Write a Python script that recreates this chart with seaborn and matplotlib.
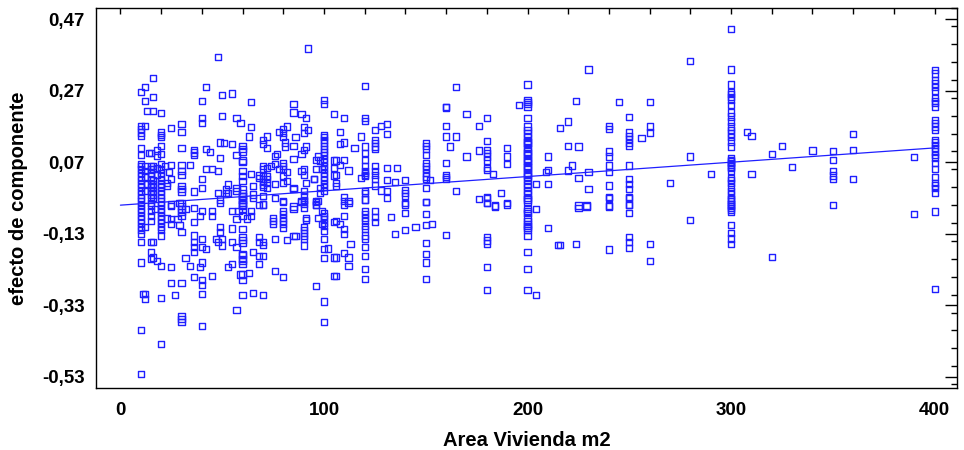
import numpy as np
import pandas as pd
import matplotlib
matplotlib.use("Agg")
import matplotlib.pyplot as plt
import seaborn as sns
from matplotlib.ticker import FixedLocator, MultipleLocator

# ---------------- data ----------------
# stacked columns: area value -> list of component effects
col_10 = [0.267, 0.172, 0.162, 0.153, 0.144, 0.109, 0.091, 0.065, 0.06, 0.05, 0.04, 0.03, 0.02, 0.01,
          0.0, -0.01, -0.02, -0.03, -0.04, -0.05, -0.06, -0.07, -0.08, -0.09, -0.10, -0.11, -0.12,
          -0.13, -0.154, -0.21, -0.399, -0.522]
col_12 = [0.281, 0.242, 0.172, 0.06, 0.045, 0.03, -0.01, -0.112, -0.298, -0.312]
col_15 = [0.096, 0.06, 0.05, 0.04, 0.03, 0.02, 0.01, 0.0, -0.01, -0.02, -0.029, -0.043, -0.052,
          -0.066, -0.08, -0.094, -0.154, -0.18, -0.2]
col_16 = [0.306, 0.253, 0.214, 0.06, 0.05, 0.02, 0.01, 0.0, -0.01, -0.02, -0.03, -0.154, -0.196]
col_18 = [0.103, 0.089, 0.054, 0.035, -0.205]
col_20 = [0.207, 0.153, 0.147, 0.14, 0.116, 0.094, 0.066, 0.05, 0.04, 0.03, 0.02, 0.01, 0.0, -0.01,
          -0.02, -0.03, -0.04, -0.05, -0.06, -0.07, -0.08, -0.09, -0.10, -0.11, -0.12, -0.135,
          -0.219, -0.309, -0.438]
col_25 = [0.166, 0.062, 0.023, -0.048, -0.052, -0.089, -0.103, -0.223, -0.267]
col_30 = [0.177, 0.155, 0.109, 0.062, 0.045, 0.035, 0.003, -0.004, -0.012, -0.043, -0.052, -0.06,
          -0.07, -0.08, -0.126, -0.267, -0.36, -0.369, -0.376]
col_36 = [0.105, 0.097, 0.091, -0.012, -0.057, -0.098, -0.135, -0.154, -0.168, -0.182, -0.251]
col_40 = [0.242, 0.193, 0.179, 0.022, -0.002, -0.066, -0.145, -0.168, -0.21, -0.26, -0.274, -0.298, -0.388]
col_60 = [0.116, 0.107, 0.10, 0.075, 0.07, 0.045, 0.031, 0.017, -0.006, -0.016, -0.025, -0.035,
          -0.048, -0.024, -0.034, -0.043, -0.052, -0.061, -0.08, -0.117, -0.14, -0.148, -0.156,
          -0.186, -0.19, -0.2, -0.205, -0.214, -0.244, -0.26, -0.3]
col_70 = [0.131, 0.122, 0.059, 0.051, 0.031, 0.023, 0.015, 0.007, 0.0, -0.025, -0.048, -0.048,
          -0.152, -0.161, -0.191, -0.302]
col_72 = [0.142, 0.109, 0.053, 0.031, 0.022, 0.012, -0.002]
col_80 = [0.162, 0.151, 0.14, 0.068, 0.059, 0.05, 0.031, 0.012, -0.039, -0.041, -0.066, -0.075,
          -0.085, -0.094, -0.103, -0.113, -0.251]
col_90 = [0.168, 0.151, 0.105, 0.05, 0.035, -0.011, -0.025, -0.036, -0.038, -0.047, -0.057, -0.112,
          -0.12, -0.128, -0.137, -0.145, -0.163]
col_100 = [0.244, 0.232, 0.147, 0.14, 0.133, 0.125, 0.116, 0.107, 0.098, 0.09, 0.08, 0.07, 0.06,
           0.05, 0.04, 0.03, 0.02, 0.01, 0.0, -0.01, -0.071, -0.08, -0.089, -0.099, -0.108, -0.122,
           -0.145, -0.173, -0.197, -0.319, -0.376]
col_120 = [0.284, 0.193, 0.186, 0.114, 0.096, 0.077, 0.059, 0.045, 0.04, 0.035, 0.031, -0.011,
           -0.016, -0.034, -0.034, -0.066, -0.075, -0.085, -0.094, -0.108, -0.117, -0.135, -0.143,
           -0.168, -0.191, -0.228, -0.256]
col_125 = [0.159, 0.133, 0.123, 0.114, 0.107, 0.059, 0.045, 0.035, 0.022, 0.005, -0.066, -0.082, -0.098]
col_140 = [0.02, -0.008, -0.016, -0.045, -0.024, -0.048, -0.071, -0.119]
col_150 = [0.123, 0.116, 0.107, 0.09, 0.068, 0.06, 0.05, 0.04, 0.03, 0.022, -0.002, -0.041, -0.041,
           -0.075, -0.106, -0.156, -0.186, -0.21, -0.256]
col_160 = [0.223, 0.172, 0.142, 0.068, 0.035, 0.029, 0.022, -0.134]
col_180 = [0.193, 0.13, 0.105, 0.096, 0.086, 0.075, 0.054, 0.049, -0.027, -0.043, -0.029, -0.043,
           -0.14, -0.149, -0.157, -0.223, -0.288]
col_200 = [0.287, 0.244, 0.238, 0.232, 0.226, 0.193, 0.17, 0.16, 0.15, 0.14, 0.13, 0.125, 0.12, 0.11,
           0.10, 0.095, 0.09, 0.08, 0.075, 0.07, 0.06, 0.055, 0.05, 0.04, 0.035, 0.03, 0.02, 0.01,
           0.0, -0.01, -0.02, -0.029, -0.034, -0.04, -0.061, -0.066, -0.071, -0.085, -0.094, -0.103,
           -0.108, -0.113, -0.12, -0.137, -0.18, -0.228, -0.288]
col_240 = [0.172, 0.162, 0.1, 0.086, 0.061, 0.042, 0.005, -0.027, -0.051, -0.029, -0.054, -0.174]
col_250 = [0.196, 0.153, 0.144, 0.135, 0.123, 0.116, 0.061, 0.023, 0.01, -0.004, -0.027, -0.048,
           -0.029, -0.05, -0.071, -0.14, -0.154, -0.17]
col_300 = [0.443, 0.329, 0.287, 0.267, 0.26, 0.252, 0.245, 0.23, 0.209, 0.198, 0.184, 0.17, 0.159,
           0.15, 0.14, 0.128, 0.114, 0.082, 0.077, 0.072, 0.068, 0.063, 0.058, 0.053, 0.045, 0.026,
           0.02, 0.012, 0.0, -0.01, -0.02, -0.03, -0.04, -0.048, -0.034, -0.047, -0.052, -0.057,
           -0.063, -0.068, -0.106, -0.128, -0.143, -0.159]
col_400 = [0.327, 0.318, 0.30, 0.29, 0.28, 0.268, 0.25, 0.24, 0.236, 0.225, 0.188, 0.18, 0.17, 0.159,
           0.133, 0.125, 0.118, 0.11, 0.10, 0.09, 0.083, 0.068, 0.051, 0.028, 0.012, 0.005, -0.003,
           -0.015, -0.068, -0.285]

# scattered points: (area m2, component effect)
pts_0_50 = [(13, 0.214), (14, 0.096), (23, 0.012), (23, 0.003), (23, -0.087), (28, -0.089),
            (29, -0.106), (29, -0.043), (27, -0.30), (32, -0.061), (32, -0.198), (34, 0.062),
            (34, -0.219), (39, -0.08), (39, -0.223), (42, 0.281), (42, 0.107), (44, 0.099),
            (42, 0.05), (42, -0.173), (45, 0.05), (45, -0.066), (45, -0.08), (45, -0.248),
            (48, 0.364), (48, 0.045), (48, -0.015), (49, -0.112), (49, -0.126), (47, -0.145),
            (48, -0.154), (49, 0.125), (49, 0.082), (49, -0.034), (49, -0.043), (50, 0.257),
            (50, 0.20), (51, 0.123), (52, -0.006), (52, -0.015), (50, -0.145), (50, -0.163),
            (11, -0.298), (22, 0.06), (24, 0.042), (13, 0.01), (17, -0.06)]
pts_50_105 = [(53, -0.223), (53, 0.008), (53, -0.016), (55, 0.262), (57, 0.193), (59, 0.179),
              (64, 0.168), (64, 0.238), (85, 0.232), (85, 0.209), (89, 0.205), (91, 0.193),
              (92, 0.388), (82, 0.17), (78, 0.155), (92, 0.159), (63, 0.142), (86, 0.14),
              (55, 0.122), (81, 0.125), (81, 0.114), (85, 0.116), (57, 0.091), (91, 0.114),
              (89, 0.093), (76, 0.088), (77, 0.093), (97, 0.086), (96, 0.077), (98, 0.075),
              (105, 0.205), (105, 0.075), (105, 0.054), (105, 0.033), (96, 0.051), (99, 0.05),
              (85, 0.079), (76, 0.066), (74, 0.059), (78, 0.051), (82, 0.042), (64, 0.037),
              (68, 0.033), (68, 0.026), (76, 0.009), (82, 0.017), (89, 0.045), (91, 0.012),
              (95, 0.022), (95, 0.023), (98, -0.002), (98, -0.016), (97, -0.039), (57, -0.002),
              (57, -0.011), (65, 0.003), (65, -0.02), (76, -0.029), (85, -0.002), (85, -0.004),
              (89, -0.039), (96, -0.039), (96, -0.048), (55, -0.066), (58, -0.066), (57, -0.089),
              (64, -0.066), (64, -0.08), (62, -0.087), (65, -0.029), (68, -0.05), (85, -0.054),
              (85, -0.061), (89, -0.041), (91, -0.085), (91, -0.091), (96, -0.041), (96, -0.05),
              (99, -0.066), (97, -0.085), (99, -0.103), (105, -0.097), (55, -0.115), (55, -0.152),
              (57, -0.168), (68, -0.14), (68, -0.152), (75, -0.085), (75, -0.094), (75, -0.103),
              (76, -0.145), (82, -0.147), (85, -0.137), (86, -0.137), (102, -0.171), (65, -0.182),
              (68, -0.193), (55, -0.214), (68, -0.214), (105, -0.196), (105, -0.247), (59, -0.244),
              (63, -0.239), (76, -0.235), (96, -0.276), (65, -0.296), (57, -0.344)]
pts_105_160 = [(110, 0.193), (108, 0.155), (118, 0.142), (131, 0.177), (128, 0.172), (131, 0.149),
               (108, 0.122), (110, 0.125), (115, 0.109), (106, 0.075), (108, 0.063), (110, 0.077),
               (112, 0.047), (106, 0.035), (106, 0.012), (106, 0.003), (118, 0.026), (131, 0.053),
               (136, 0.053), (131, 0.02), (135, 0.015), (152, 0.02), (128, -0.009), (131, -0.011),
               (131, -0.029), (110, -0.027), (112, -0.039), (112, -0.045), (110, -0.038),
               (110, -0.05), (110, -0.08), (108, -0.103), (110, -0.117), (110, -0.131),
               (106, -0.094), (133, -0.082), (145, -0.11), (135, -0.131), (153, -0.103),
               (113, -0.159), (106, -0.196), (110, -0.184), (112, -0.196), (112, -0.219),
               (106, -0.247), (160, 0.225)]
pts_160_215 = [(165, 0.281), (170, 0.205), (196, 0.229), (176, 0.172), (216, 0.165), (162, 0.114),
               (176, 0.103), (170, 0.086), (165, 0.142), (190, 0.109), (190, 0.086), (190, 0.065),
               (190, -0.048), (183, 0.037), (210, 0.086), (210, 0.049), (209, 0.043), (204, 0.01),
               (210, 0.01), (165, -0.011), (187, -0.016), (176, -0.032), (184, -0.051),
               (184, -0.054), (190, -0.045), (204, -0.061), (210, -0.114), (215, -0.161), (204, -0.30)]
pts_215_310 = [(280, 0.353), (230, 0.329), (224, 0.242), (245, 0.238), (260, 0.238), (220, 0.184),
               (260, 0.17), (260, 0.153), (256, 0.137), (308, 0.155), (310, 0.144), (220, 0.116),
               (225, 0.114), (280, 0.086), (222, 0.061), (220, 0.047), (230, 0.043), (225, 0.026),
               (290, 0.037), (310, 0.037), (270, 0.012), (230, -0.004), (225, -0.051),
               (229, -0.051), (225, -0.057), (229, -0.054), (280, -0.092), (216, -0.161),
               (224, -0.159), (260, -0.159), (260, -0.205)]
pts_310_400 = [(360, 0.148), (360, 0.105), (350, 0.102), (350, 0.077), (340, 0.103), (325, 0.116),
               (320, 0.092), (330, 0.057), (350, 0.045), (350, 0.033), (350, 0.023), (360, 0.023),
               (390, 0.085), (350, -0.05), (390, -0.075), (320, -0.194)]

# fitted component-effect line (end points)
line_area = [0, 400]
line_effect = [-0.050, 0.110]

y_ticks = [-0.53, -0.33, -0.13, 0.07, 0.27, 0.47]
x_ticks = [0, 100, 200, 300, 400]

# ---------------- assemble ----------------
columns = {10: col_10, 12: col_12, 15: col_15, 16: col_16, 18: col_18, 20: col_20, 25: col_25,
           30: col_30, 36: col_36, 40: col_40, 60: col_60, 70: col_70, 72: col_72, 80: col_80,
           90: col_90, 100: col_100, 120: col_120, 125: col_125, 140: col_140, 150: col_150,
           160: col_160, 180: col_180, 200: col_200, 240: col_240, 250: col_250, 300: col_300,
           400: col_400}
xs, ys = [], []
for a, vals in columns.items():
    xs += [a] * len(vals)
    ys += vals
for group in (pts_0_50, pts_50_105, pts_105_160, pts_160_215, pts_215_310, pts_310_400):
    for a, e in group:
        xs.append(a)
        ys.append(e)
df = pd.DataFrame({"area": xs, "effect": ys})
df_line = pd.DataFrame({"area": line_area, "effect": line_effect})

# ---------------- plot ----------------
sns.set_style("white")
plt.rcParams["font.family"] = ["Liberation Sans", "DejaVu Sans"]
plt.rcParams["text.color"] = "black"
plt.rcParams["axes.labelcolor"] = "black"
plt.rcParams["xtick.color"] = "black"
plt.rcParams["ytick.color"] = "black"

fig = plt.figure(figsize=(9.64, 4.50), dpi=100)
ax = fig.add_axes([96 / 964, 62 / 450, 861 / 964, 380 / 450])

blue = "#1f1fff"
sns.scatterplot(data=df, x="area", y="effect", ax=ax, marker="s", s=20,
                facecolors="none", edgecolor=blue, linewidth=1.0, legend=False)
sns.lineplot(data=df_line, x="area", y="effect", ax=ax, color=blue, linewidth=0.9)

ax.set_xlim(-12, 411)
ax.set_ylim(-0.561, 0.501)

ax.xaxis.set_major_locator(FixedLocator(x_ticks))
ax.xaxis.set_minor_locator(MultipleLocator(20))
ax.yaxis.set_major_locator(FixedLocator(y_ticks))
ax.yaxis.set_minor_locator(MultipleLocator(0.05))
ax.set_xticklabels([str(v) for v in x_ticks], fontweight="bold", fontsize=13.5, color="black")
ax.set_yticklabels([f"{v:.2f}".replace(".", ",") for v in y_ticks], fontweight="bold",
                   fontsize=13.5, color="black")

ax.tick_params(axis="both", which="both", direction="in", top=True, right=True,
               color="black", labelcolor="black", width=1.0)
ax.tick_params(axis="x", which="major", length=4, pad=10)
ax.tick_params(axis="x", which="minor", length=4)
ax.tick_params(axis="y", which="major", length=9, pad=8)
ax.tick_params(axis="y", which="minor", length=4)

for sp in ax.spines.values():
    sp.set_visible(True)
    sp.set_color("black")
    sp.set_linewidth(1.0)

ax.set_xlabel("Area Vivienda m2", fontsize=14.5, fontweight="bold", labelpad=9, color="black")
ax.set_ylabel("efecto de componente", fontsize=14.5, fontweight="bold", labelpad=10, color="black")

fig.savefig("out.png", dpi=100)
